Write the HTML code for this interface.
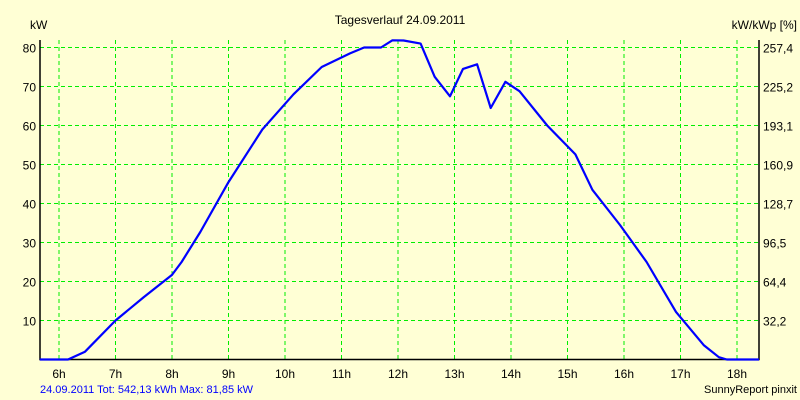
<!DOCTYPE html>
<html><head><meta charset="utf-8"><style>
html,body{margin:0;padding:0;background:#ffffd5;}
svg{display:block;font-family:"Liberation Sans",sans-serif;}
</style></head><body>
<svg id="chart" width="800" height="400" viewBox="0 0 800 400">
<rect x="0" y="0" width="800" height="400" fill="#ffffd5"/>
<text x="400" y="24" font-size="12" text-anchor="middle">Tagesverlauf 24.09.2011</text>
<text x="30" y="29" font-size="12">kW</text>
<text x="797" y="29" font-size="12" text-anchor="end">kW/kWp [%]</text>
<text x="40" y="393" font-size="11" fill="#0000ff">24.09.2011 Tot: 542,13 kWh Max: 81,85 kW</text>
<text x="797" y="393" font-size="11" text-anchor="end">SunnyReport pinxit</text>
<g id="grid"></g>
<g id="axes"></g>
<g id="series"></g>
</svg>
<script>
const hours = [6,7,8,9,10,11,12,13,14,15,16,17,18];
const yTicks = [10,20,30,40,50,60,70,80];
const rightLabels = ["32,2","64,4","96,5","128,7","160,9","193,1","225,2","257,4"];
const times = [5.66,6.16,6.46,7.0,7.5,8.0,8.17,8.5,9.0,9.6,10.15,10.65,11.15,11.4,11.7,11.9,12.1,12.4,12.65,12.92,13.15,13.4,13.64,13.9,14.15,14.64,15.14,15.44,15.93,16.4,16.92,17.41,17.68,17.82,18.39];
const power = [0,0,2,10,16,21.7,25,32.7,45.5,59,68,75,78.5,80,80,81.85,81.8,81,72.5,67.5,74.5,75.7,64.5,71.2,68.8,60,52.6,43.5,34.5,25,12.2,3.7,0.6,0,0];

const L=40,R=759,T=40,B=359.5;
const xs=h=>59+(h-6)*56.5;
const ys=v=>B-v*3.9;
const NS="http://www.w3.org/2000/svg";
function mk(tag,attrs,parent){const e=document.createElementNS(NS,tag);for(const k in attrs)e.setAttribute(k,attrs[k]);parent.appendChild(e);return e;}
const grid=document.getElementById('grid'),axes=document.getElementById('axes'),series=document.getElementById('series');
hours.forEach(h=>{
  const x=xs(h);
  const g=mk('line',{x1:x,x2:x,y1:T,y2:B,stroke:'#00ee00','stroke-dasharray':'4,3','stroke-width':1},grid);
  
  
  const t=mk('text',{x:x,y:378,'font-size':12,'text-anchor':'middle'},axes);
  t.textContent=h+'h';
  
  
});
yTicks.forEach((v,i)=>{
  const y=ys(v);
  const g=mk('line',{x1:L,x2:R,y1:y,y2:y,stroke:'#00ee00','stroke-dasharray':'4,3','stroke-width':1},grid);
  
  
  const t=mk('text',{x:36,y:y+5,'font-size':12,'text-anchor':'end'},axes);
  t.textContent=v;
  
  
  const t2=mk('text',{x:763,y:y+5,'font-size':12},axes);
  t2.textContent=rightLabels[i];
  
  
});
const ax=mk('path',{d:`M${L} ${T}V${B}H${R}V${T}`,fill:'none',stroke:'#000','stroke-width':1.5},axes);


const pts=times.map((t,i)=>xs(t).toFixed(1)+','+ys(power[i]).toFixed(1)).join(' ');
const line=mk('polyline',{points:pts,fill:'none',stroke:'#0000ff','stroke-width':2.2,'stroke-linejoin':'round'},series);


</script>
</body></html>
